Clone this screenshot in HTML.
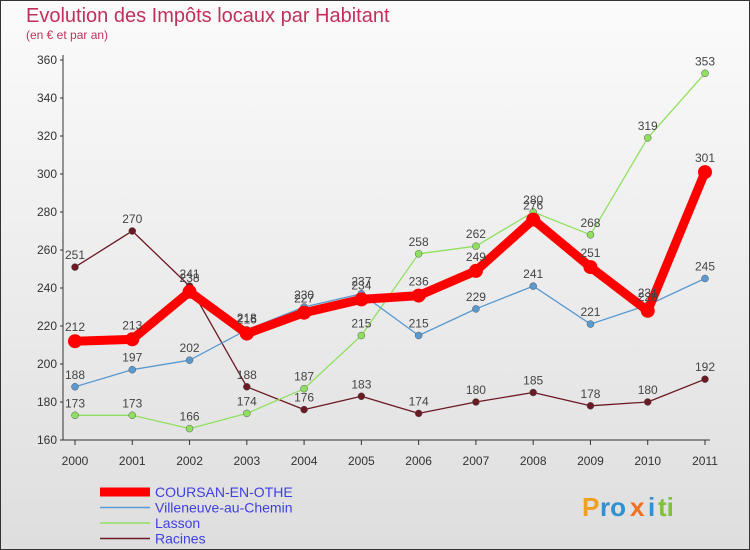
<!DOCTYPE html>
<html><head><meta charset="utf-8"><style>
body{margin:0;}
#wrap{position:relative;width:750px;height:550px;overflow:hidden;font-family:"Liberation Sans",sans-serif;}
</style></head><body>
<div id="wrap">
<svg id="chart" width="750" height="550" xmlns="http://www.w3.org/2000/svg">
<defs><linearGradient id="bg" x1="0" y1="0" x2="0" y2="1"><stop offset="0" stop-color="#fbfbfb"/><stop offset="1" stop-color="#dedede"/></linearGradient></defs>
<rect x="0.5" y="0.5" width="749" height="549" fill="url(#bg)" stroke="#333"/>
<text x="26" y="22" font-size="20" fill="#c0305a">Evolution des Impôts locaux par Habitant</text>
<text x="26" y="39" font-size="12" fill="#c0305a">(en € et par an)</text>
<g id="axes"></g><g id="series"></g><g id="legend"></g>
<g font-size="26" font-weight="bold">
<text x="582" y="516" fill="#f0a020">P</text><text x="600" y="516" fill="#3090d0">ro</text><text x="630" y="516" fill="#f07020">x</text><text x="648" y="516" fill="#3090d0">i</text><text x="658" y="516" fill="#80c040">ti</text>
</g>
</svg>
</div>
<script>
const years=["2000","2001","2002","2003","2004","2005","2006","2007","2008","2009","2010","2011"];
const yTicks=[160,180,200,220,240,260,280,300,320,340,360];
const coursan=[212,213,238,216,227,234,236,249,276,251,228,301];
const villeneuve=[188,197,202,218,230,237,215,229,241,221,231,245];
const lasson=[173,173,166,174,187,215,258,262,280,268,319,353];
const racines=[251,270,241,188,176,183,174,180,185,178,180,192];
const seriesNames=["COURSAN-EN-OTHE","Villeneuve-au-Chemin","Lasson","Racines"];
const NS="http://www.w3.org/2000/svg";
const x0=75,x1=705,yTop=60,yBot=440,vMin=160,vMax=360;
function xs(i){return x0+i*(x1-x0)/(years.length-1);}
function ys(v){return yBot-(v-vMin)*(yBot-yTop)/(vMax-vMin);}
function mk(tag,attrs,parent,txt){const e=document.createElementNS(NS,tag);for(const k in attrs)e.setAttribute(k,attrs[k]);if(txt!==undefined)e.textContent=txt;parent.appendChild(e);return e;}
const axes=document.getElementById('axes');
let a=mk('line',{x1:63,y1:yTop-5,x2:63,y2:yBot,stroke:'#333'},axes);


a=mk('line',{x1:63,y1:yBot,x2:x1+5,y2:yBot,stroke:'#333'},axes);


yTicks.forEach(v=>{const t=mk('text',{x:57,y:ys(v)+4,'font-size':12,'text-anchor':'end',fill:'#333'},axes,v);


mk('line',{x1:60,y1:ys(v),x2:63,y2:ys(v),stroke:'#333'},axes);});
years.forEach((y,i)=>{const t=mk('text',{x:xs(i),y:yBot+25,'font-size':12,'text-anchor':'middle',fill:'#333'},axes,y);


mk('line',{x1:xs(i),y1:yBot,x2:xs(i),y2:yBot+5,stroke:'#333'},axes);});
const sg=document.getElementById('series');
const defs=[{d:racines,c:'#6b1a24',w:1.3,r:3.5,n:'racines'},{d:lasson,c:'#90e060',w:1.3,r:3.5,n:'lasson'},{d:villeneuve,c:'#5a9ad0',w:1.3,r:3.5,n:'villeneuve-au-chemin'},{d:coursan,c:'#ff0000',w:9,r:7,n:'coursan-en-othe'}];
const labelOrder=[];
defs.forEach(s=>{const g=mk('g',{},sg);


const p=mk('polyline',{points:s.d.map((v,i)=>xs(i)+','+ys(v)).join(' '),fill:'none',stroke:s.c,'stroke-width':s.w,'stroke-linejoin':'round'},g);


s.d.forEach((v,i)=>{const c=mk('circle',{cx:xs(i),cy:ys(v),r:s.r,fill:s.c,stroke:s.r>4?'none':'#555','stroke-width':0.5},g);


labelOrder.push([xs(i),ys(v)-(s.r>4?10:8),v]);});});
labelOrder.forEach(l=>{const t=mk('text',{x:l[0],y:l[1],'font-size':12,'text-anchor':'middle',fill:'#444'},sg,l[2]);

});
const lg=document.getElementById('legend');
const lc=['#ff0000','#5a9ad0','#90e060','#6b1a24'],lw=[9,1.5,1.5,1.5];
seriesNames.forEach((n,i)=>{const y=492+i*15.5;
const g=mk('g',{},lg);


mk('line',{x1:100,y1:y,x2:150,y2:y,stroke:lc[i],'stroke-width':lw[i]},g);
mk('text',{x:155,y:y+5,'font-size':14,fill:'#4040e0'},g,n);});
</script>
</body></html>
